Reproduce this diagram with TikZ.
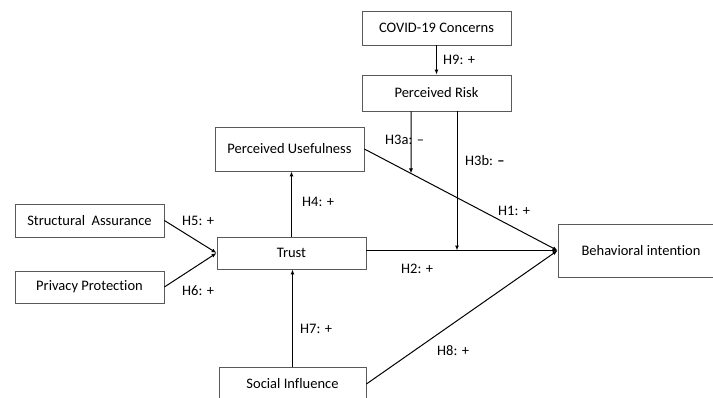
\documentclass[tikz,border=0pt]{standalone}
\usepackage{fontspec}
\setmainfont{Carlito}[Ligatures={NoCommon}]
\usetikzlibrary{arrows.meta,calc}
\begin{document}
\begin{tikzpicture}[x=1pt,y=-1pt,
  every node/.style={font=\fontsize{14.5}{17}\selectfont, text=black, inner sep=0pt},
  box/.style={draw=black!65, line width=0.8pt, rectangle, minimum width=149pt},
  conn/.style={draw=black, line width=1pt, -{Latex[length=5pt,width=4pt]}},
  lab/.style={anchor=west}]
\useasboundingbox (0,0) rectangle (713,397);
% boxes
\node[box, minimum height=34pt] (covid) at (436.5,28) {COVID-19 Concerns};
\node[box, minimum height=36pt] (risk) at (436.5,93) {Perceived Risk};
\node[box, minimum height=44pt] (pu) at (289.5,149) {Perceived Usefulness};
\node[box, minimum height=33pt] (sa) at (89.5,220.5) {Structural\ \ Assurance};
\node[box, minimum height=32pt] (pp) at (89.5,287) {Privacy Protection};
\node[box, minimum height=32pt] (trust) at (291.5,253) {Trust};
\node[box, minimum width=147pt, minimum height=34pt] (si) at (292.5,384) {Social Influence};
\node[box, minimum width=166pt, minimum height=53pt] (bi) at (641,250.5) {Behavioral intention};
% connectors
\coordinate (tr) at (trust.east |- bi.west);
\draw[conn] (covid.south) -- (risk.north);
\draw[conn] (pu.east) -- (bi.west);
\draw[conn] (tr) -- (bi.west);
\draw[conn] (si.east) -- (bi.west);
\draw[conn] (sa.east) -- (trust.west);
\draw[conn] (pp.east) -- (trust.west);
\draw[conn] (trust.north) -- (trust.north |- pu.south);
\draw[conn] (si.north) -- (si.north |- trust.south);
% moderators
\coordinate (r3a) at ([xshift=-25.5pt]risk.south);
\coordinate (r3ab) at (r3a |- bi.south);
\coordinate (t3a) at (intersection of pu.east--bi.west and r3a--r3ab);
\draw[conn] (r3a) -- (t3a);
\coordinate (r3b) at ([xshift=20.5pt]risk.south);
\coordinate (t3b) at (r3b |- bi.west);
\draw[conn] (r3b) -- (t3b);
% labels
\node[lab] (l9) at (443,60) {H9: +};
\node[lab] (l3a) at (385,140) {H3a: –};
\node[lab] (l3b) at (465,161) {H3b: \textbf{–}};
\node[lab] (l1) at (498,211) {H1: +};
\node[lab] (l2) at (401,269) {H2: +};
\node[lab] (l4) at (302,202) {H4: +};
\node[lab] (l5) at (182,221) {H5: +};
\node[lab] (l6) at (182,291) {H6: +};
\node[lab] (l7) at (300,329) {H7: +};
\node[lab] (l8) at (437,351) {H8: +};
\end{tikzpicture}
\end{document}
